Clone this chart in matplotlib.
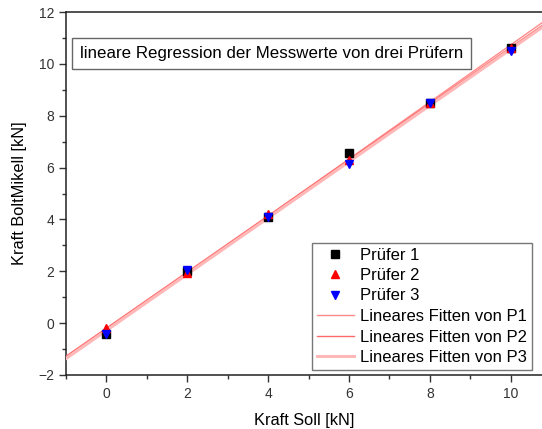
import numpy as np
import matplotlib
matplotlib.use("Agg")
import matplotlib.pyplot as plt
from matplotlib.ticker import MultipleLocator

plt.rcParams['font.family'] = ['Liberation Sans', 'DejaVu Sans']

kraft_soll = [0, 2, 4, 6, 8, 10]
pruefer1 = [-0.40, 2.00, 4.10, 6.55, 8.50, 10.62]
pruefer2 = [-0.20, 1.93, 4.20, 6.30, 8.50, 10.60]
pruefer3 = [-0.42, 2.06, 4.08, 6.15, 8.48, 10.50]

series_labels = ["Prüfer 1", "Prüfer 2", "Prüfer 3"]
fit_labels = ["Lineares Fitten von P1", "Lineares Fitten von P2", "Lineares Fitten von P3"]
title_text = "lineare Regression der Messwerte von drei Prüfern"

fig = plt.figure(figsize=(5.42, 4.29), dpi=100)
ax = fig.add_axes([66/542, 1 - 375/429, 1 - 66/542 + 0.002, (375 - 12)/429])

x = np.array(kraft_soll, dtype=float)
xl = np.array([-1.0, 11.5])
markers = [("s", "black"), ("^", "red"), ("v", "blue")]
handles = []
for ys, (m, c), lab in zip([pruefer1, pruefer2, pruefer3], markers, series_labels):
    h, = ax.plot(x, ys, linestyle="none", marker=m, color=c, markersize=5.3, label=lab, zorder=4)
    handles.append(h)

fit_styles = [("#ff8a8a", 1.0), ("#ff6a6a", 1.0), ("#ffb8b8", 2.2)]
for ys, (c, lw), lab in zip([pruefer1, pruefer2, pruefer3], fit_styles, fit_labels):
    k, d = np.polyfit(x, ys, 1)
    h, = ax.plot(xl, k * xl + d, color=c, lw=lw, label=lab, zorder=3)
    handles.append(h)

ax.set_xlim(-1, 10.8)
ax.set_ylim(-2, 12)
ax.xaxis.set_major_locator(MultipleLocator(2))
ax.xaxis.set_minor_locator(MultipleLocator(1))
ax.yaxis.set_major_locator(MultipleLocator(2))
ax.yaxis.set_minor_locator(MultipleLocator(1))
ax.tick_params(which="both", direction="out", labelsize=10, colors="#333333")
ax.tick_params(which="major", length=5, width=1.0)
ax.tick_params(which="minor", length=3, width=1.0)
for s in ax.spines.values():
    s.set_linewidth(1.1)
    s.set_color("#222222")
ax.spines['right'].set_visible(False)

ax.set_xlabel("Kraft Soll [kN]", fontsize=11.8, labelpad=9)
ax.set_ylabel("Kraft BoltMikell [kN]", fontsize=11.8, labelpad=8)

ax.text(80/542, 1 - 53.5/429, title_text, transform=fig.transFigure, fontsize=12.2, va="center", ha="left",
        bbox=dict(boxstyle="square,pad=0.45", fc="white", ec="#666666", lw=1.0))

leg = ax.legend(handles=handles, loc="lower right", fontsize=12, frameon=True, fancybox=False,
                edgecolor="#555555", handlelength=2.2, borderpad=0.3, labelspacing=0.33,
                handletextpad=0.4, borderaxespad=0.3, bbox_to_anchor=(0.988, 0.0))
leg.get_frame().set_linewidth(1.0)

fig.savefig("out.png", dpi=100)
